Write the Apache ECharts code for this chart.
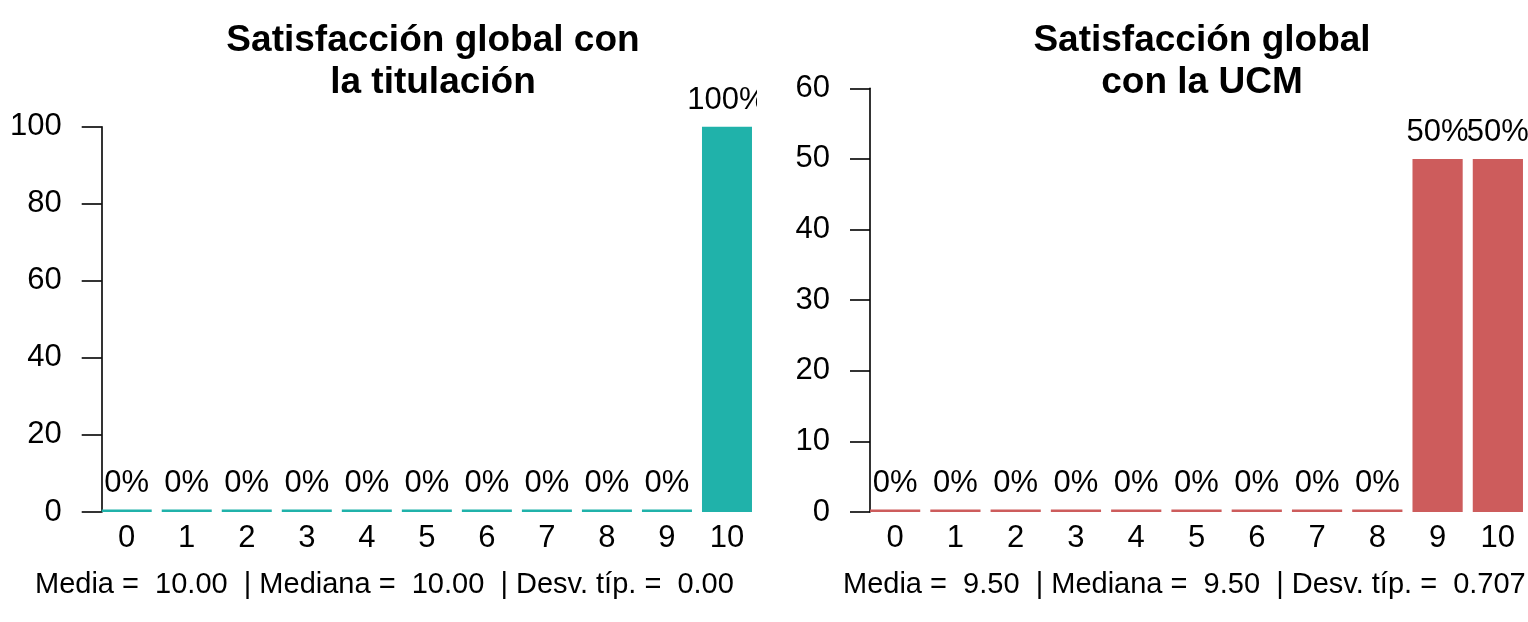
<!DOCTYPE html>
<html>
<head>
<meta charset="utf-8">
<script src="https://cdn.jsdelivr.net/npm/echarts@6/dist/echarts.min.js"></script>
<style>
  html, body { margin: 0; padding: 0; background: #fff; }
  #wrap { position: relative; width: 1528px; height: 622px; overflow: hidden; background: #fff; }
  #c1 { position: absolute; left: 0; top: 0; width: 757px; height: 622px; }
  #c2 { position: absolute; left: 764px; top: 0; width: 764px; height: 622px; }
</style>
</head>
<body>
<div id="wrap"><div id="c1"></div><div id="c2"></div></div>
<script>
// ---- data ----
const categories = ['0', '1', '2', '3', '4', '5', '6', '7', '8', '9', '10'];
const satTitulacion = [0, 0, 0, 0, 0, 0, 0, 0, 0, 0, 100];
const satUCM = [0, 0, 0, 0, 0, 0, 0, 0, 0, 50, 50];
const titleTitulacion = 'Satisfacción global con\nla titulación';
const titleUCM = 'Satisfacción global\ncon la UCM';
const statsTitulacion = 'Media =  10.00  | Mediana =  10.00  | Desv. típ. =  0.00';
const statsUCM = 'Media =  9.50  | Mediana =  9.50  | Desv. típ. =  0.707';
const yTicksTitulacion = { min: 0, max: 100, interval: 20 };
const yTicksUCM = { min: 0, max: 60, interval: 10 };

const FONT = "'Liberation Sans', Arial, Helvetica, sans-serif";
const FS_AXIS = 31;
const FS_LABEL = 31;
const FS_STATS = 29;

function makeOption(cfg) {
  return {
    animation: false,
    textStyle: { fontFamily: FONT },
    title: {
      text: cfg.title,
      left: cfg.titleCenter,
      textAlign: 'center',
      top: 15,
      textStyle: { fontFamily: FONT, fontSize: 37, fontWeight: 'bold', color: '#000', lineHeight: 42 }
    },
    grid: { left: cfg.gridLeft, top: cfg.gridTop, width: cfg.gridWidth, height: 512 - cfg.gridTop, containLabel: false },
    xAxis: {
      type: 'category',
      data: categories,
      axisLine: { show: false },
      axisTick: { show: false },
      axisLabel: { margin: 11, fontSize: FS_AXIS, color: '#000', fontFamily: FONT, interval: 0 }
    },
    yAxis: {
      type: 'value',
      min: cfg.ticks.min, max: cfg.ticks.max, interval: cfg.ticks.interval,
      offset: -5,
      splitLine: { show: false },
      axisLine: { show: true, lineStyle: { color: '#000', width: 1.6 } },
      axisTick: { show: true, inside: false, length: 20, lineStyle: { color: '#000', width: 1.6 } },
      axisLabel: { margin: 40, fontSize: FS_AXIS, color: '#000', fontFamily: FONT }
    },
    graphic: [{
      type: 'text',
      left: cfg.statsLeft,
      top: 570,
      style: { text: cfg.stats, fontSize: FS_STATS, fontFamily: FONT, fill: '#000' }
    }],
    series: [{
      type: 'bar',
      data: cfg.data,
      barCategoryGap: '16.7%',
      barMinHeight: 2.5,
      itemStyle: { color: cfg.color },
      label: {
        show: true, position: 'top', distance: 11,
        fontSize: FS_LABEL, color: '#000', fontFamily: FONT,
        formatter: p => p.value + '%'
      }
    }]
  };
}

const c1 = echarts.init(document.getElementById('c1'), null, { renderer: 'canvas' });
c1.setOption(makeOption({
  title: titleTitulacion, titleCenter: 428,
  gridLeft: 96.7, gridTop: 126.7, gridWidth: 665.5,
  ticks: yTicksTitulacion, data: satTitulacion, color: '#20B2AA',
  stats: statsTitulacion, statsLeft: 35
}));

const c2 = echarts.init(document.getElementById('c2'), null, { renderer: 'canvas' });
c2.setOption(makeOption({
  title: titleUCM, titleCenter: 1197 - 764,
  gridLeft: 101, gridTop: 88.3, gridWidth: 664.4,
  ticks: yTicksUCM, data: satUCM, color: '#CD5C5C',
  stats: statsUCM, statsLeft: 843 - 764
}));
</script>
</body>
</html>
